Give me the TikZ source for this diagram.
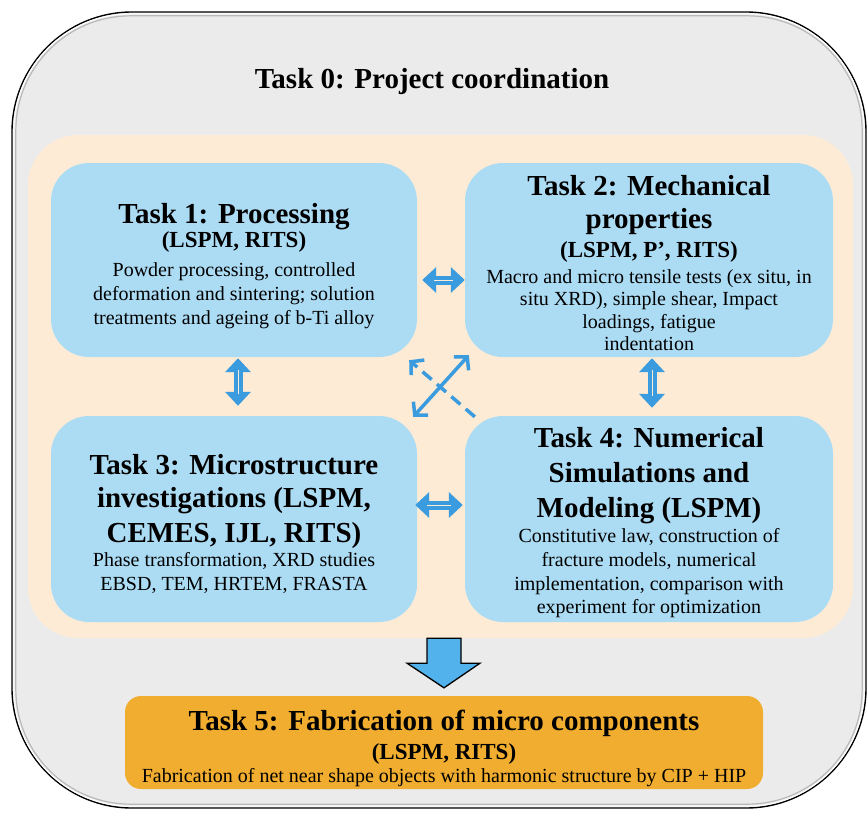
\documentclass[tikz,border=0pt]{standalone}
\usepackage{fontspec}
\setmainfont{Liberation Serif}
\usetikzlibrary{arrows.meta,calc}
\definecolor{outerg}{HTML}{EBEBEB}
\definecolor{beige}{HTML}{FDEBD5}
\definecolor{boxblue}{HTML}{ACDCF4}
\definecolor{arrblue}{HTML}{3B9BDF}
\definecolor{downblue}{HTML}{52B2EC}
\definecolor{orangebox}{HTML}{F1AD2F}
\tikzset{
  hdr/.style={anchor=base,font=\fontsize{29}{34}\selectfont\bfseries},
  subhdr/.style={anchor=base,font=\fontsize{23}{26}\selectfont\bfseries},
  body/.style={anchor=base,font=\fontsize{20}{24}\selectfont},
  bluebox/.style={fill=boxblue,rounded corners=38,inner sep=0},
  dblarrow/.style={draw=arrblue,line width=9pt,{Triangle[length=14pt,width=25pt]}-{Triangle[length=14pt,width=25pt]}},
  midstripe/.style={draw=beige,line width=1pt},
  diagarrow/.style={draw=arrblue,line width=3.5pt},
}
\begin{document}
\begin{tikzpicture}[x=1pt,y=-1pt]
\useasboundingbox (0,0) rectangle (868,812);
% outer frame
\node[draw=black,line width=1.4pt,fill=outerg,rounded corners=120,inner sep=0,minimum width=854,minimum height=796] (frame) at (439,410) {};
\draw[white,line width=1pt,rounded corners=117] ($(frame.north west)+(2.5,2.5)$) rectangle ($(frame.south east)+(-2.5,-2.5)$);
\draw[gray!55,line width=1.2pt,rounded corners=115] ($(frame.north west)+(4.5,4.5)$) rectangle ($(frame.south east)+(-4.5,-4.5)$);
\node[anchor=base,font=\fontsize{29}{34}\selectfont\bfseries] (title) at (432,88) {Task 0: Project coordination};
% work area
\node[fill=beige,rounded corners=50,inner sep=0,minimum width=825,minimum height=503] (work) at (440.5,386.5) {};
% boxes
\node[bluebox,minimum width=366,minimum height=194] (t1) at (234,260) {};
\node[bluebox,minimum width=368,minimum height=194] (t2) at (649,260) {};
\node[bluebox,minimum width=366,minimum height=206] (t3) at (234,519) {};
\node[bluebox,minimum width=368,minimum height=206] (t4) at (649,519) {};
\node[fill=orangebox,rounded corners=16,inner sep=0,minimum width=638,minimum height=93] (t5) at (444,742.5) {};
% double arrows
\coordinate (a12s) at ($(t1.east)+(5,20)$);
\coordinate (a12e) at ($(t2.west)+(0,20)$);
\draw[dblarrow] (a12s) -- (a12e);
\draw[midstripe,shorten <=12pt,shorten >=12pt] (a12s) -- (a12e);
\coordinate (a13s) at ($(t1.south)+(4,1)$);
\coordinate (a13e) at ($(t3.north)+(4,-10)$);
\draw[dblarrow] (a13s) -- (a13e);
\draw[midstripe,shorten <=12pt,shorten >=12pt] (a13s) -- (a13e);
\coordinate (a24s) at ($(t2.south)+(3,1)$);
\coordinate (a24e) at ($(t4.north)+(3,-8)$);
\draw[dblarrow] (a24s) -- (a24e);
\draw[midstripe,shorten <=12pt,shorten >=12pt] (a24s) -- (a24e);
\coordinate (a34s) at ($(t3.east)+(-2,-14)$);
\coordinate (a34e) at ($(t4.west)+(-2,-14)$);
\draw[dblarrow] (a34s) -- (a34e);
\draw[midstripe,shorten <=12pt,shorten >=12pt] (a34s) -- (a34e);
% diagonal arrows
\draw[diagarrow,{Straight Barb[length=9pt,width=20pt]}-{Straight Barb[length=9pt,width=20pt]}] ($(t3.north east)+(-4,1)$) -- ($(t2.south west)+(4,-2)$);
\draw[diagarrow,dash pattern=on 12pt off 7pt,-{Straight Barb[length=9pt,width=20pt]}] ($(t4.north west)+(10,1)$) -- ($(t1.south east)+(-8,3)$);
% down arrow
\draw[fill=downblue,draw=black,line width=1.3pt,line join=miter] ($(work.south)+(-13.5,0)$) -- ++(34,0) -- ++(0,25) -- ++(19,0) -- ($(t5.north)+(0,-8)$) -- ($(work.south)+(-33.5,25)$) -- ++(20,0) -- cycle;
% texts
\node[hdr] (t1a) at (234,223) {Task 1: Processing};
\node[subhdr] (t1b) at (234,247) {(LSPM, RITS)};
\node[body] (t1c) at (234,276) {Powder processing, controlled};
\node[body] (t1d) at (234,300) {deformation and sintering; solution};
\node[body] (t1e) at (234,324) {treatments and ageing of b-Ti alloy};
\node[hdr] (t2a) at (649,195) {Task 2: Mechanical};
\node[hdr] (t2b) at (649,228) {properties};
\node[subhdr] (t2c) at (649,257) {(LSPM, P’, RITS)};
\node[body] (t2d) at (649,283) {Macro and micro tensile tests (ex situ, in};
\node[body] (t2e) at (649,305.5) {situ XRD), simple shear, Impact};
\node[body] (t2f) at (649,328) {loadings, fatigue};
\node[body] (t2g) at (649,350.5) {indentation};
\node[hdr] (t3a) at (234,474) {Task 3: Microstructure};
\node[hdr] (t3b) at (234,507) {investigations (LSPM,};
\node[hdr] (t3c) at (234,542) {CEMES, IJL, RITS)};
\node[body] (t3d) at (234,566) {Phase transformation, XRD studies};
\node[body] (t3e) at (234,590) {EBSD, TEM, HRTEM, FRASTA};
\node[hdr] (t4a) at (649,447) {Task 4: Numerical};
\node[hdr] (t4b) at (649,482) {Simulations and};
\node[hdr] (t4c) at (649,517) {Modeling (LSPM)};
\node[body] (t4d) at (649,542) {Constitutive law, construction of};
\node[body] (t4e) at (649,566) {fracture models, numerical};
\node[body] (t4f) at (649,590) {implementation, comparison with};
\node[body] (t4g) at (649,613) {experiment for optimization};
\node[hdr] (t5a) at (444,730) {Task 5: Fabrication of micro components};
\node[subhdr] (t5b) at (444,759) {(LSPM, RITS)};
\node[body] (t5c) at (444,782) {Fabrication of net near shape objects with harmonic structure by CIP + HIP};
\end{tikzpicture}
\end{document}
